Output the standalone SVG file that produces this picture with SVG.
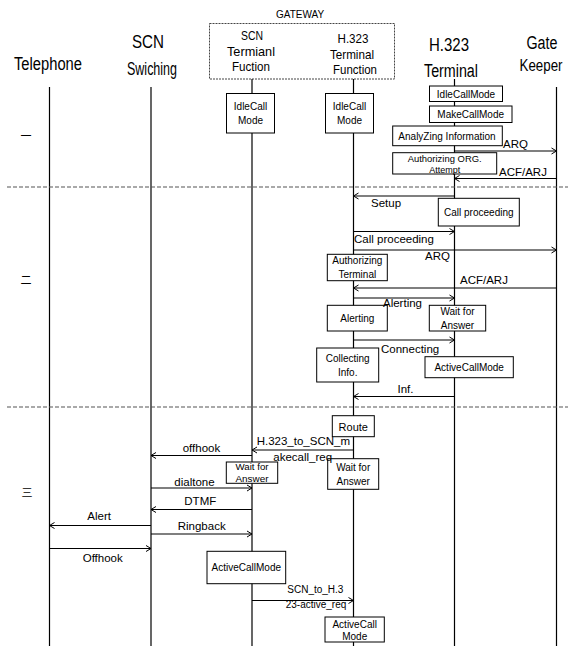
<svg xmlns="http://www.w3.org/2000/svg" width="568" height="646" viewBox="0 0 568 646">
<style>
text{font-family:"Liberation Sans",Arial,sans-serif;fill:#000}
.h{font-size:18px;text-anchor:middle}
.g{font-size:13px;text-anchor:middle}
.gw{font-size:10px;text-anchor:middle}
.m{font-size:11.5px}
.mm{font-size:10px}
.b{font-size:10px;text-anchor:middle}
.s{font-size:9px;text-anchor:middle}
.cjk{font-family:"Liberation Sans","Noto Sans CJK SC",sans-serif;font-size:11px;text-anchor:middle}
.lf{stroke:#000;stroke-width:1.2;fill:none}
.sep{stroke:#555;stroke-width:1.2;stroke-dasharray:4 2;fill:none}
.box{fill:#fff;stroke:#000;stroke-width:1}
.msg{stroke:#000;stroke-width:1.2;fill:none;marker-end:url(#ah)}
</style>
<defs>
<marker id="ah" markerUnits="userSpaceOnUse" markerWidth="8" markerHeight="8" refX="6" refY="4" orient="auto">
<path d="M1,1 L6,4 L1,7" fill="none" stroke="#000" stroke-width="1"/>
</marker>
</defs>
<rect width="568" height="646" fill="#fff"/>

<g id="gateway">
<text class="gw" x="300" y="18">GATEWAY</text>
<rect x="209.5" y="23.5" width="185" height="55.5" fill="none" stroke="#444" stroke-width="1" stroke-dasharray="2 1"/>
</g>

<g id="telephone">
<text class="h" x="48" y="70" textLength="68" lengthAdjust="spacingAndGlyphs">Telephone</text>
<line class="lf" x1="49.5" y1="87" x2="49.5" y2="646"/>
</g>
<g id="scn-switching">
<text class="h" x="148" y="48" textLength="32" lengthAdjust="spacingAndGlyphs">SCN</text>
<text class="h" x="152" y="75" textLength="50" lengthAdjust="spacingAndGlyphs">Swiching</text>
<line class="lf" x1="151" y1="87" x2="151" y2="646"/>
</g>
<g id="scn-terminal-function">
<text class="g" x="252" y="40" textLength="22" lengthAdjust="spacingAndGlyphs">SCN</text>
<text class="g" x="251" y="56" textLength="48" lengthAdjust="spacingAndGlyphs">Termianl</text>
<text class="g" x="251" y="71" textLength="38" lengthAdjust="spacingAndGlyphs">Fuction</text>
<line class="lf" x1="252" y1="79" x2="252" y2="646"/>
</g>
<g id="h323-terminal-function">
<text class="g" x="353" y="43" textLength="31" lengthAdjust="spacingAndGlyphs">H.323</text>
<text class="g" x="352" y="59" textLength="44" lengthAdjust="spacingAndGlyphs">Terminal</text>
<text class="g" x="355" y="74" textLength="44" lengthAdjust="spacingAndGlyphs">Function</text>
<line class="lf" x1="353.5" y1="79" x2="353.5" y2="646"/>
</g>
<g id="h323-terminal">
<text class="h" x="449" y="51" textLength="40" lengthAdjust="spacingAndGlyphs">H.323</text>
<text class="h" x="451" y="77" textLength="54" lengthAdjust="spacingAndGlyphs">Terminal</text>
<line class="lf" x1="454.5" y1="79" x2="454.5" y2="646"/>
</g>
<g id="gatekeeper">
<text class="h" x="542" y="49" textLength="31" lengthAdjust="spacingAndGlyphs">Gate</text>
<text class="h" x="541" y="71" style="font-size:16px" textLength="43" lengthAdjust="spacingAndGlyphs">Keeper</text>
<line class="lf" x1="556.5" y1="87" x2="556.5" y2="646"/>
</g>

<g id="phases">
<line class="sep" x1="7" y1="187" x2="568" y2="187"/>
<line class="sep" x1="7" y1="407" x2="568" y2="407"/>
<text class="cjk" x="26" y="140">一</text>
<text class="cjk" x="26" y="284">二</text>
<text class="cjk" x="27" y="497">三</text>
</g>

<g id="idle-scn"><rect class="box" x="226.5" y="93.5" width="48" height="39.5"/><text class="b" x="250.5" y="110">IdleCall</text><text class="b" x="250.5" y="124">Mode</text></g>
<g id="idle-h323tf"><rect class="box" x="325.5" y="93.5" width="48" height="39.5"/><text class="b" x="349.5" y="110">IdleCall</text><text class="b" x="349.5" y="124">Mode</text></g>
<g id="idle-term"><rect class="box" x="429.5" y="86" width="73" height="15.5"/><text class="b" x="466" y="97.5">IdleCallMode</text></g>
<g id="makecall-term"><rect class="box" x="429.5" y="106" width="82.5" height="16.5"/><text class="b" x="470.7" y="117.8">MakeCallMode</text></g>
<g id="analyzing-term"><rect class="box" x="392.7" y="126" width="109.6" height="19.7"/><text class="b" x="447" y="140">AnalyZing Information</text></g>
<g id="authorizing-org"><rect class="box" x="392.7" y="152.7" width="104" height="21.3"/><text class="s" x="444.7" y="161.8" textLength="74" lengthAdjust="spacingAndGlyphs">Authorizing ORG.</text><text class="s" x="444.7" y="172.5">Attempt</text></g>
<g id="callproc-term"><rect class="box" x="438.3" y="198.3" width="81" height="27.7"/><text class="b" x="478.8" y="215.5">Call proceeding</text></g>
<g id="auth-terminal"><rect class="box" x="327.3" y="254.3" width="60" height="26.4"/><text class="b" x="357.3" y="264">Authorizing</text><text class="b" x="357.3" y="277.5">Terminal</text></g>
<g id="alerting-h323tf"><rect class="box" x="327.3" y="305.3" width="60" height="25.7"/><text class="b" x="357.3" y="321.5">Alerting</text></g>
<g id="wait-term"><rect class="box" x="429.3" y="305.3" width="56.4" height="25.7"/><text class="b" x="457.5" y="315">Wait for</text><text class="b" x="457.5" y="328.8">Answer</text></g>
<g id="collecting-h323tf"><rect class="box" x="316.7" y="348" width="62" height="34"/><text class="b" x="347.7" y="362">Collecting</text><text class="b" x="347.7" y="375.5">Info.</text></g>
<g id="active-term"><rect class="box" x="425" y="356.7" width="88.3" height="21"/><text class="b" x="469.2" y="371">ActiveCallMode</text></g>
<g id="route-h323tf"><rect class="box" x="332.3" y="415.7" width="42" height="21"/><text class="b" x="353.3" y="431" style="font-size:11px">Route</text></g>
<g id="wait-scn"><rect class="box" x="226.3" y="462" width="51.4" height="21.3"/><text class="s" x="252" y="470" textLength="33" lengthAdjust="spacingAndGlyphs">Wait for</text><text class="s" x="252" y="482.3" textLength="33" lengthAdjust="spacingAndGlyphs">Answer</text></g>
<g id="wait-h323tf"><rect class="box" x="327.7" y="458.7" width="51" height="30.6"/><text class="b" x="353.2" y="471.2">Wait for</text><text class="b" x="353.2" y="484.5">Answer</text></g>
<g id="active-scn"><rect class="box" x="207" y="551.3" width="78.7" height="32.4"/><text class="b" x="246.3" y="571.3">ActiveCallMode</text></g>
<g id="active-h323tf"><rect class="box" x="325" y="617" width="59.3" height="25"/><text class="b" x="354.7" y="627.5">ActiveCall</text><text class="b" x="354.7" y="639.5">Mode</text></g>

<g id="connectors">
<line class="msg" x1="454.5" y1="151" x2="556.5" y2="151"/>
<text class="m" x="503" y="148">ARQ</text>
<line class="msg" x1="556.5" y1="178.5" x2="454.5" y2="178.5"/>
<text class="m" x="499" y="175.5">ACF/ARJ</text>
<line class="msg" x1="454.5" y1="196" x2="353.5" y2="196"/>
<text class="m" x="371" y="207">Setup</text>
<line class="msg" x1="353.5" y1="231.5" x2="454.5" y2="231.5"/>
<text class="m" x="354" y="242.5">Call proceeding</text>
<line class="msg" x1="353.5" y1="250" x2="556.5" y2="250"/>
<text class="m" x="425" y="259.5">ARQ</text>
<line class="msg" x1="556.5" y1="288" x2="353.5" y2="288"/>
<text class="m" x="460" y="284">ACF/ARJ</text>
<line class="msg" x1="353.5" y1="298" x2="454.5" y2="298"/>
<text class="m" x="383" y="306.5">Alerting</text>
<line class="msg" x1="353.5" y1="340" x2="454.5" y2="340"/>
<text class="m" x="381" y="352.5">Connecting</text>
<line class="msg" x1="454.5" y1="396.5" x2="353.5" y2="396.5"/>
<text class="m" x="397.5" y="393">Inf.</text>
<line class="msg" x1="353.5" y1="450" x2="252" y2="450"/>
<text class="m" x="256.7" y="445">H.323_to_SCN_m</text>
<text class="m" x="273.3" y="460.7">akecall_req</text>
<line class="msg" x1="252" y1="455.5" x2="151" y2="455.5"/>
<text class="m" x="182.7" y="452.3">offhook</text>
<line class="msg" x1="151" y1="488" x2="252" y2="488"/>
<text class="m" x="174.3" y="486">dialtone</text>
<line class="msg" x1="252" y1="509.5" x2="151" y2="509.5"/>
<text class="m" x="184.3" y="505">DTMF</text>
<line class="msg" x1="151" y1="525.5" x2="49.5" y2="525.5"/>
<text class="m" x="87.3" y="519.5">Alert</text>
<line class="msg" x1="151" y1="534" x2="252" y2="534"/>
<text class="m" x="177.7" y="530">Ringback</text>
<line class="msg" x1="49.5" y1="548.5" x2="151" y2="548.5"/>
<text class="m" x="82.7" y="561.7">Offhook</text>
<line class="msg" x1="252" y1="600.5" x2="353.5" y2="600.5"/>
<text class="mm" x="287.3" y="593.3">SCN_to_H.3</text>
<text class="mm" x="285.7" y="607.7">23-active_req</text>
</g>
</svg>
